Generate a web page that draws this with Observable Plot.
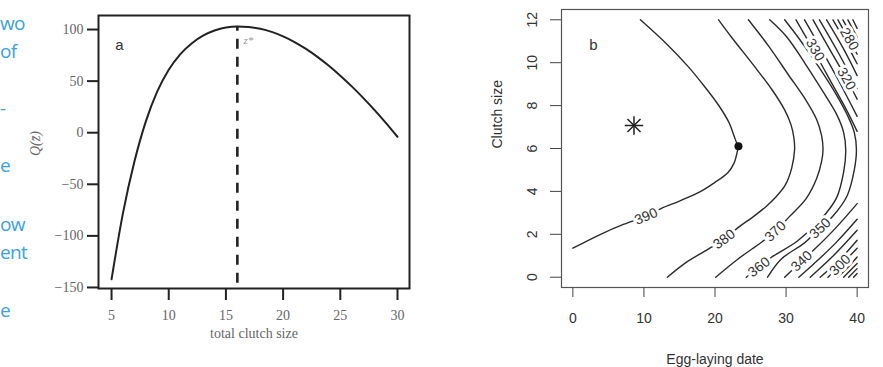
<!DOCTYPE html>
<html><head><meta charset="utf-8">
<script src="https://cdn.jsdelivr.net/npm/d3@7"></script>
<script src="https://cdn.jsdelivr.net/npm/@observablehq/plot@0.6"></script>
<style>
html,body{margin:0;padding:0;background:#fff;}
#wrap{position:relative;width:883px;height:367px;overflow:hidden;background:#fff}
.panel{position:absolute;top:0}
.panel svg{display:block}
#pa{left:0;width:430px}
#pb{left:440px;width:443px}
.side{position:absolute;left:0;font-family:"Liberation Sans Narrow","Open Sans",sans-serif;font-size:19px;letter-spacing:-0.6px;color:#3aa2dd;line-height:1;white-space:nowrap}
</style></head><body>
<div id="wrap"><div id="side"></div><div id="pa" class="panel"></div><div id="pb" class="panel"></div></div>
<script>
// ---------- side text (cropped paragraph on the left) ----------
const sideWords = ["wo", "of", "-", "e", "ow", "ent", "e"];
const sideTops  = [14, 42, 99, 156, 215, 243, 301];

// ---------- panel a ----------
const clutchSize = [5,6,7,8,9,10,11,12,13,14,15,16,17,18,19,20,21,22,23,24,25,26,27,28,29,30];
const qValues    = [-142,-78,-28,11,40,61,76,86.5,94,99,102,103,102.4,100.7,97.7,93.4,87.9,81.2,73.5,64.8,55.2,44.9,33.8,21.9,9.3,-4];
const zStar = 16;
const zStarPeak = 103;
const dashBottom = -146;
const xTicksA = [5,10,15,20,25,30];
const yTicksA = [-150,-100,-50,0,50,100];

// ---------- panel b ----------
const contour390 = [[0,1.35],[3.9,2.0],[7.2,2.47],[10.3,2.84],[12.4,3.2],[15,3.55],[18,4.0],[19.9,4.4],[21.8,4.87],[22.7,5.33],[23.2,5.95],[23.3,6.1],[23.0,6.3],[22.7,6.57],[22.0,7.19],[20.6,7.97],[18.5,8.9],[16.2,9.83],[13.3,10.84],[9.5,12]];
const contour380 = [[13.3,0],[16,0.7],[19,1.3],[21.3,1.77],[23.2,2.3],[25.5,2.85],[27.2,3.3],[28.6,3.75],[29.9,4.3],[30.8,5.1],[31.2,5.95],[31.1,6.5],[30.7,7.1],[29.8,7.8],[28,8.75],[25.5,9.85],[22.3,11.2],[20.5,12]];
const contour370 = [[20.1,0],[23.2,0.84],[26,1.5],[28.5,2.14],[30.4,2.8],[32.8,3.65],[34.3,4.6],[35.0,5.4],[35.2,5.95],[35.0,6.6],[34.3,7.35],[32.7,8.3],[30.3,9.45],[27.6,10.75],[24.7,12]];
const contour360 = [[24.4,0],[26.2,0.47],[27.9,0.92],[31.6,1.69],[34.9,2.7],[37.1,3.7],[38.1,4.9],[38.4,5.9],[38.1,6.75],[37.1,7.6],[35.2,8.65],[32.7,9.95],[30.1,11.2],[27.7,12]];
const contour350 = [[27.4,0],[29.3,0.84],[32.6,1.6],[34.8,2.28],[36.6,2.85],[38.6,3.8],[39.6,5.0],[39.9,5.95],[39.6,6.75],[38.7,7.5],[36.9,8.6],[34.6,9.8],[32.1,11],[29.8,12]];
const lower340 = [[29.8,0],[32.2,0.75],[34.0,1.3],[37,2.3],[40,3.43]];
const lower330 = [[31.8,0],[34,0.65],[37,1.6],[40,2.7]];
const lower320 = [[33.4,0],[36.5,0.95],[40,2.19]];
const lower310 = [[34.8,0],[37.5,0.8],[40,1.72]];
const lower300 = [[35.9,0],[37.8,0.6],[40,1.35]];
const lower290 = [[37.2,0],[38.6,0.42],[40,0.94]];
const lower280 = [[38.1,0],[39,0.3],[40,0.64]];
const lower270 = [[38.8,0],[40,0.4]];
const lower260 = [[39.5,0],[40,0.17]];
const upper340 = [[31.4,12],[34,10.5],[36.5,9.0],[38.5,7.8],[40,6.8]];
const upper330 = [[32.6,12],[35,10.6],[37.5,9.1],[40,7.5]];
const upper320 = [[33.8,12],[36,10.7],[38.5,9.25],[40,8.3]];
const upper310 = [[34.7,12],[37.3,10.5],[40,8.8]];
const upper300 = [[35.7,12],[38,10.7],[40,9.4]];
const upper290 = [[36.6,12],[38.4,10.95],[40,9.95]];
const upper280 = [[37.3,12],[38.8,11.1],[40,10.4]];
const upper270 = [[38.0,12],[40,10.8]];
const upper260 = [[38.7,12],[40,11.2]];
const upper250 = [[39.4,12],[40,11.6]];

const labelText  = ["390","380","370","360","350","340","300","330","320","280"];
const labelDate  = [10.3, 21.3, 28.5, 26.2, 34.8, 32.2, 37.6, 34.1, 38.5, 38.9];
const labelSize  = [2.84, 1.77, 2.14, 0.47, 2.28, 0.75, 0.56, 10.6, 9.25, 11.1];
const labelAngle = [-23, -37, -43, -38, -43, -43, -45, 60, 60, 60];

const starPoint = {date: 8.6, size: 7.07};
const optimumPoint = {date: 23.3, size: 6.1};
const xTicksB = [0,10,20,30,40];
const yTicksB = [0,2,4,6,8,10,12];

// ---------- build side text ----------
const side = document.getElementById("side");
sideWords.forEach((w, i) => {
  const el = document.createElement("div");
  el.className = "side"; el.style.top = sideTops[i] + "px"; el.textContent = w;
  side.appendChild(el);
});

// ---------- panel a ----------
const serif = '"Liberation Serif", "DejaVu Serif", serif';
const sans = '"Liberation Sans", Arial, sans-serif';
const curveA = clutchSize.map((z, i) => ({z, q: qValues[i]}));

const plotA = Plot.plot({
  width: 430, height: 367,
  marginLeft: 98, marginRight: 21, marginTop: 15, marginBottom: 79,
  style: {fontFamily: serif, fontSize: "14px", background: "transparent", color: "#222"},
  x: {domain: [3.86, 31.05]},
  y: {domain: [-151, 113.6]},
  marks: [
    Plot.ruleX([zStar], {x: d => d, y1: dashBottom, y2: zStarPeak, stroke: "#222", strokeWidth: 2.6, strokeDasharray: "10,8"}),
    Plot.line(curveA, {x: "z", y: "q", curve: "monotone-x", stroke: "#222", strokeWidth: 2}),
    Plot.frame({stroke: "#222", strokeWidth: 2}),
    Plot.axisX(xTicksA, {label: null, tickSize: 12, tickPadding: 10, stroke: "#222", strokeWidth: 2, fill: "#666", fontSize: 14}),
    Plot.axisY(yTicksA, {label: null, tickSize: 11, tickPadding: 4, stroke: "#222", strokeWidth: 2, fill: "#666", fontSize: 14}),
    Plot.text(["total clutch size"], {text: d => d, frameAnchor: "bottom", lineAnchor: "middle", dy: 45, fill: "#666", fontSize: 14}),
    Plot.text(["Q(z\u0304)"], {text: d => d, frameAnchor: "left", lineAnchor: "middle", dx: -63, dy: 4, rotate: -90, fill: "#666", fontStyle: "italic", fontSize: 14}),
    Plot.text(["a"], {text: d => d, frameAnchor: "top-left", lineAnchor: "middle", textAnchor: "middle", dx: 21, dy: 30, fill: "#333", fontFamily: sans, fontSize: 15}),
    Plot.text(["z*"], {text: d => d, x: [zStar], y: [zStarPeak], dx: 11, dy: 14, fill: "#999", fontStyle: "italic", fontSize: 11})
  ]
});
document.getElementById("pa").appendChild(plotA);

// ---------- panel b ----------
const contourSets = [
  ["390", contour390], ["380", contour380], ["370", contour370], ["360", contour360], ["350", contour350],
  ["l340", lower340], ["l330", lower330], ["l320", lower320], ["l310", lower310], ["l300", lower300],
  ["l290", lower290], ["l280", lower280], ["l270", lower270], ["l260", lower260],
  ["u340", upper340], ["u330", upper330], ["u320", upper320], ["u310", upper310], ["u300", upper300],
  ["u290", upper290], ["u280", upper280], ["u270", upper270], ["u260", upper260], ["u250", upper250]
];
const contourRows = contourSets.flatMap(([id, pts]) => pts.map(([date, size]) => ({id, date, size})));
const labelRows = labelText.map((t, i) => ({t, date: labelDate[i], size: labelSize[i], a: labelAngle[i]}));

const plotB = Plot.plot({
  width: 443, height: 367,
  marginLeft: 121, marginRight: 15, marginTop: 9, marginBottom: 80,
  style: {fontFamily: sans, fontSize: "14px", background: "transparent", color: "#333"},
  x: {domain: [-1.6, 41.6]},
  y: {domain: [-0.48, 12.48]},
  marks: [
    Plot.line(contourRows, {x: "date", y: "size", z: "id", curve: "catmull-rom", stroke: "#2b2b2b", strokeWidth: 1.4}),
    Plot.text(labelRows, {x: "date", y: "size", text: "t", rotate: "a", fill: "#333", stroke: "white", strokeWidth: 6, fontSize: 14}),
    Plot.dot([starPoint], {x: "date", y: "size", symbol: "plus", r: 6, stroke: "#222", strokeWidth: 1.5}),
    Plot.dot([starPoint], {x: "date", y: "size", symbol: "times", r: 6, stroke: "#222", strokeWidth: 1.5}),
    Plot.dot([optimumPoint], {x: "date", y: "size", r: 4, fill: "#111", stroke: "none"}),
    Plot.frame({stroke: "#555", strokeWidth: 1.2}),
    Plot.axisX(xTicksB, {label: null, tickSize: 10, tickPadding: 16, stroke: "#444", fill: "#333", fontSize: 14}),
    Plot.axisY(yTicksB, {label: null, tickSize: 11, tickFormat: () => "", stroke: "#444"}),
    Plot.text(yTicksB, {y: d => d, text: d => String(d), frameAnchor: "left", dx: -29, rotate: -90, lineAnchor: "middle", textAnchor: "middle", fill: "#333", fontSize: 14}),
    Plot.text(["Egg-laying date"], {text: d => d, frameAnchor: "bottom", lineAnchor: "middle", dy: 72, fill: "#333", fontSize: 14}),
    Plot.text(["Clutch size"], {text: d => d, frameAnchor: "left", lineAnchor: "middle", dx: -64, rotate: -90, fill: "#333", fontSize: 14}),
    Plot.text(["b"], {text: d => d, frameAnchor: "top-left", lineAnchor: "middle", textAnchor: "middle", dx: 32, dy: 36, fill: "#333", fontSize: 15})
  ]
});
document.getElementById("pb").appendChild(plotB);
</script>
</body></html>
